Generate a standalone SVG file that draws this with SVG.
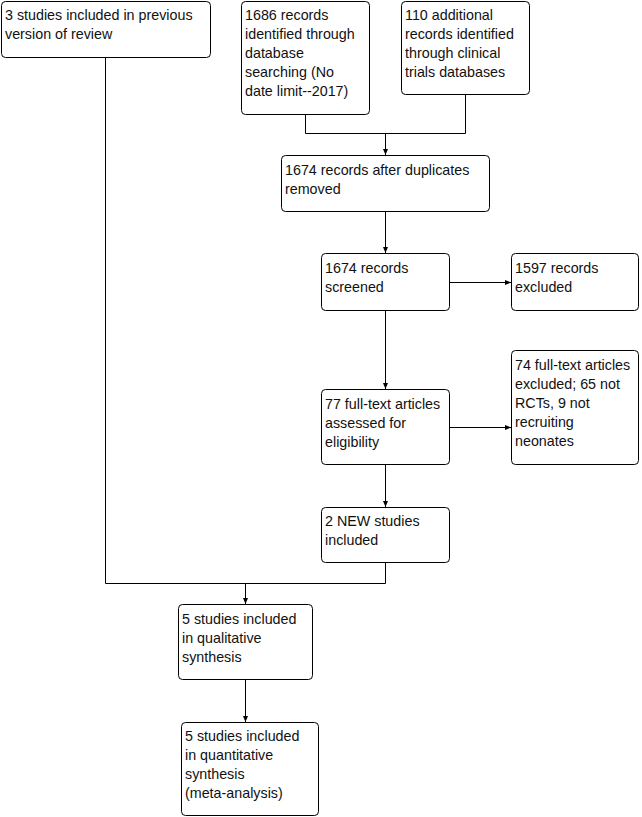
<svg xmlns="http://www.w3.org/2000/svg" width="642" height="817" viewBox="0 0 642 817">
<style>
.b{fill:#fff;stroke:#000;stroke-width:1}
.t{font-family:"Liberation Sans",Arial,sans-serif;font-size:14.3px;fill:#111}
.c{fill:none;stroke:#000;stroke-width:1}
</style>
<defs>
<marker id="a" viewBox="0 0 6 6" refX="6" refY="3" markerWidth="6" markerHeight="6" markerUnits="userSpaceOnUse" orient="auto">
<path d="M0,0.5 L6,3 L0,5.5 Z" fill="#000"/>
</marker>
</defs>
<rect width="642" height="817" fill="#fff"/>
<g id="connectors">
<path class="c" d="M305.5,115 V133.5 H465.5 V95"/>
<path class="c" d="M385.5,133.5 V155" marker-end="url(#a)"/>
<path class="c" d="M385.5,212 V253" marker-end="url(#a)"/>
<path class="c" d="M449,282.5 H511" marker-end="url(#a)"/>
<path class="c" d="M385.5,311 V389" marker-end="url(#a)"/>
<path class="c" d="M449,427.5 H511" marker-end="url(#a)"/>
<path class="c" d="M385.5,465 V507" marker-end="url(#a)"/>
<path class="c" d="M105.5,57 V583.5 H385.5 V563"/>
<path class="c" d="M245.5,583.5 V604" marker-end="url(#a)"/>
<path class="c" d="M245.5,679 V722" marker-end="url(#a)"/>
</g>
<g id="n1"><rect class="b" x="1.5" y="1.5" width="209" height="56" rx="4"/>
<text class="t" x="5" y="20">3 studies included in previous</text>
<text class="t" x="5" y="39">version of review</text></g>
<g id="n2"><rect class="b" x="241.5" y="1.5" width="128" height="113" rx="4"/>
<text class="t" x="245" y="20">1686 records</text>
<text class="t" x="245" y="39">identified through</text>
<text class="t" x="245" y="58">database</text>
<text class="t" x="245" y="77">searching (No</text>
<text class="t" x="245" y="96">date limit--2017)</text></g>
<g id="n3"><rect class="b" x="401.5" y="1.5" width="128" height="93" rx="4"/>
<text class="t" x="405" y="20">110 additional</text>
<text class="t" x="405" y="39">records identified</text>
<text class="t" x="405" y="58">through clinical</text>
<text class="t" x="405" y="77">trials databases</text></g>
<g id="n4"><rect class="b" x="281.5" y="155.5" width="208" height="56" rx="4"/>
<text class="t" x="285" y="175">1674 records after duplicates</text>
<text class="t" x="285" y="194">removed</text></g>
<g id="n5"><rect class="b" x="321.5" y="253.5" width="128" height="57" rx="4"/>
<text class="t" x="325" y="273">1674 records</text>
<text class="t" x="325" y="292">screened</text></g>
<g id="n6"><rect class="b" x="511.5" y="253.5" width="127" height="57" rx="4"/>
<text class="t" x="515" y="273">1597 records</text>
<text class="t" x="515" y="292">excluded</text></g>
<g id="n7"><rect class="b" x="321.5" y="389.5" width="128" height="75" rx="4"/>
<text class="t" x="325" y="409">77 full-text articles</text>
<text class="t" x="325" y="428">assessed for</text>
<text class="t" x="325" y="447">eligibility</text></g>
<g id="n8"><rect class="b" x="511.5" y="350.5" width="127" height="114" rx="4"/>
<text class="t" x="515" y="370">74 full-text articles</text>
<text class="t" x="515" y="389">excluded; 65 not</text>
<text class="t" x="515" y="408">RCTs, 9 not</text>
<text class="t" x="515" y="427">recruiting</text>
<text class="t" x="515" y="446">neonates</text></g>
<g id="n9"><rect class="b" x="321.5" y="507.5" width="128" height="55" rx="4"/>
<text class="t" x="325" y="526">2 NEW studies</text>
<text class="t" x="325" y="545">included</text></g>
<g id="n10"><rect class="b" x="178.5" y="604.5" width="134" height="75" rx="4"/>
<text class="t" x="182" y="624">5 studies included</text>
<text class="t" x="182" y="643">in qualitative</text>
<text class="t" x="182" y="662">synthesis</text></g>
<g id="n11"><rect class="b" x="181.5" y="722.5" width="137" height="93" rx="4"/>
<text class="t" x="185" y="741">5 studies included</text>
<text class="t" x="185" y="760">in quantitative</text>
<text class="t" x="185" y="779">synthesis</text>
<text class="t" x="185" y="798">(meta-analysis)</text></g>
</svg>
